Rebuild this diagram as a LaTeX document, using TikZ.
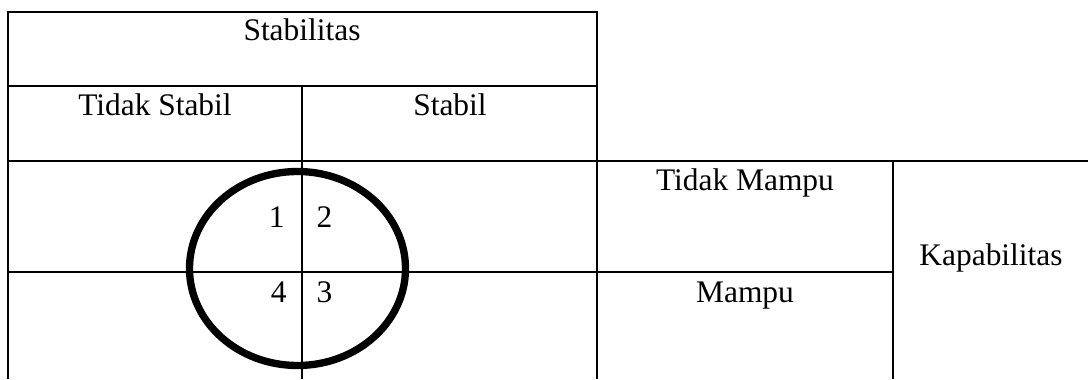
\documentclass[tikz,border=0pt]{standalone}
\usepackage{fontspec}
\setmainfont{Liberation Serif}
\begin{document}
\begin{tikzpicture}[x=0.382pt,y=-0.382pt,
  grid/.style={line width=0.85pt,black},
  ring/.style={line width=2.8pt,black},
  lbl/.style={font=\fontsize{12}{14}\selectfont,inner sep=0pt,anchor=base}]
\useasboundingbox (0,0) rectangle (1088,379);
% grid lines
\draw[grid] (8,379) -- (8,12) -- (597,12) -- (597,379);
\draw[grid] (8,86) -- (597,86);
\draw[grid] (302,86) -- (302,379);
\draw[grid] (8,161) -- (1088,161);
\draw[grid] (8,272) -- (893,272);
\draw[grid] (893,161) -- (893,379);
% circle
\draw[ring] (297.5,268.5) ellipse [x radius=108, y radius=97];
% labels
\node[lbl] (stab) at (302,40) {Stabilitas};
\node[lbl] (ts) at (155,115) {Tidak Stabil};
\node[lbl] (s) at (450,115) {Stabil};
\node[lbl] (tm) at (745,190) {Tidak Mampu};
\node[lbl] (m) at (745,302) {Mampu};
\node[lbl] (kap) at (991,265) {Kapabilitas};
\node[lbl,anchor=base east] (n1) at (285,227) {1};
\node[lbl,anchor=base west] (n2) at (316,227) {2};
\node[lbl,anchor=base east] (n4) at (287,302) {4};
\node[lbl,anchor=base west] (n3) at (316,302) {3};
\end{tikzpicture}
\end{document}
